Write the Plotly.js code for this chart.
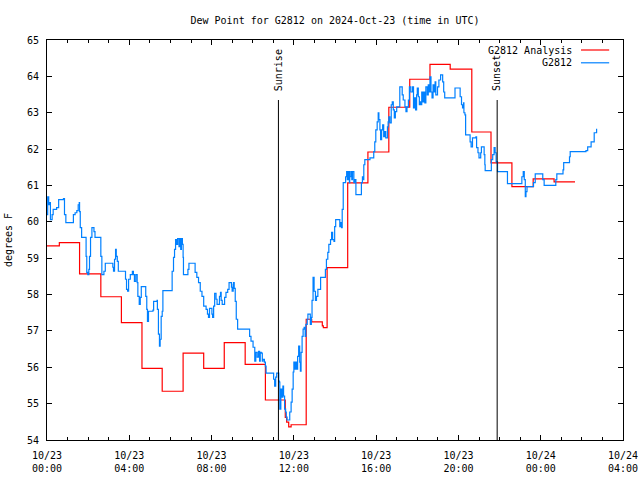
<!DOCTYPE html>
<html>
<head>
<meta charset="utf-8">
<script src="https://cdn.plot.ly/plotly-3.0.1.min.js"></script>
<style>html,body{margin:0;padding:0;background:#fff;}#chart{width:640px;height:480px;}</style>
</head>
<body>
<div id="chart"></div>
<script>
// Observed G2812 dew point: minutes after 2024-10-23 00:00 UTC, and degrees F
const obsMinutes = [0,2,5,7,10,15,18,26,28,34,48,51,55,72,77,82,87,91,94,95,97,101,111,114,116,119,122,124,127,131,137,140,153,157,160,166,170,189,192,194,197,200,202,205,208,226,229,232,235,238,243,249,252,255,259,263,265,269,272,275,286,288,291,293,296,309,311,321,322,325,328,330,333,336,338,361,365,369,372,375,378,381,385,387,390,392,395,397,398,408,411,414,430,432,437,442,447,452,457,464,468,471,474,478,481,483,486,489,493,496,501,503,506,508,511,515,518,522,527,531,535,538,540,543,544,546,549,552,556,588,591,595,601,606,609,613,617,620,622,625,628,630,634,637,639,658,661,664,667,670,674,676,678,679,682,685,688,690,693,696,698,700,705,708,712,715,718,720,723,725,728,731,734,737,739,741,744,747,750,753,755,759,761,766,768,771,773,776,779,783,786,790,796,798,809,812,815,819,822,827,830,833,837,839,842,851,854,856,859,861,864,868,871,874,876,879,882,883,886,889,891,895,898,901,915,917,920,922,924,927,939,942,949,953,956,959,963,966,968,971,973,976,979,982,985,988,993,995,997,1000,1004,1007,1010,1013,1016,1020,1026,1029,1034,1036,1039,1044,1047,1050,1054,1057,1061,1066,1069,1072,1075,1078,1080,1083,1086,1088,1090,1093,1096,1099,1102,1105,1109,1112,1115,1117,1120,1123,1126,1129,1132,1134,1139,1143,1148,1151,1154,1157,1160,1187,1190,1202,1205,1209,1212,1215,1216,1219,1221,1231,1234,1237,1241,1251,1253,1257,1260,1265,1267,1273,1275,1277,1278,1292,1296,1300,1304,1307,1310,1314,1339,1343,1382,1385,1389,1392,1395,1397,1400,1416,1419,1424,1443,1446,1450,1482,1484,1487,1502,1505,1507,1521,1524,1526,1572,1577,1587,1596,1603];
const obsDewF = [60.20,60.69,60.47,60.53,60.06,60.20,60.34,60.34,60.39,60.61,60.64,60.20,59.98,59.98,60.20,60.25,60.31,60.47,60.53,60.28,59.84,59.57,59.57,59.05,58.61,58.55,58.69,59.05,59.57,59.84,59.73,59.57,59.57,59.05,58.55,58.64,58.86,58.86,58.75,58.64,58.97,59.24,59.05,58.91,58.64,58.64,58.42,58.14,58.09,58.42,58.55,58.64,58.55,58.36,58.55,58.33,57.95,57.73,57.92,58.22,58.22,57.95,57.59,57.26,57.54,57.57,57.81,57.84,57.59,56.91,56.58,56.77,57.40,57.54,58.11,58.11,58.64,59.02,59.24,59.51,59.38,59.54,59.32,59.54,59.24,59.54,59.38,59.02,58.55,58.55,58.69,58.86,58.86,58.61,58.47,58.33,58.09,57.95,57.68,57.59,57.46,57.37,57.62,57.62,57.46,57.37,57.68,58.03,57.87,57.73,57.73,57.95,58.06,57.84,57.73,57.73,57.92,58.06,58.14,58.33,58.33,58.20,58.09,58.28,58.33,58.17,57.81,57.32,57.05,57.05,56.85,56.72,56.55,56.17,56.41,56.28,56.44,56.17,56.41,56.39,56.17,56.22,56.14,56.03,55.84,55.84,55.67,55.48,55.73,55.84,55.84,55.62,55.59,54.85,55.40,55.18,55.48,55.21,54.85,54.77,54.63,54.55,54.55,54.77,55.04,55.40,55.87,56.14,55.95,56.14,55.95,56.30,56.58,56.14,55.89,56.41,56.85,57.05,57.10,56.85,57.18,57.32,57.46,57.46,57.18,57.37,57.84,58.47,58.09,57.84,57.95,58.14,58.14,58.47,58.47,58.69,58.97,59.16,59.38,59.51,59.71,59.51,59.46,59.87,60.06,60.06,59.87,59.98,59.84,60.34,61.08,61.08,61.24,61.38,61.16,61.38,61.08,61.24,61.38,61.16,61.38,61.08,61.16,60.75,60.75,61.08,61.24,61.16,61.57,61.71,61.71,61.76,61.76,61.93,62.20,62.53,62.75,63.00,62.81,62.53,62.26,62.53,62.67,62.34,62.48,62.31,62.61,62.75,62.89,62.72,63.22,63.30,63.08,62.86,63.03,63.16,63.16,63.71,63.71,63.49,63.35,63.16,63.03,63.16,63.35,63.71,63.57,63.71,63.13,63.41,63.08,63.49,63.68,63.44,63.22,63.30,63.22,63.57,63.30,63.57,63.27,63.71,63.49,63.77,63.57,63.99,63.57,63.41,63.77,63.57,63.85,63.49,63.71,63.90,64.04,64.04,63.85,63.57,63.41,63.41,63.68,63.68,63.44,63.22,63.13,63.27,63.00,62.94,62.39,62.39,62.20,62.06,62.31,62.34,62.04,61.90,61.76,61.90,62.06,62.06,61.85,61.57,61.41,61.41,61.71,61.85,62.04,61.90,61.65,61.38,61.38,61.05,61.05,61.24,61.38,61.16,60.69,60.83,60.97,60.97,61.08,61.32,61.32,61.16,61.00,61.00,61.16,61.32,61.32,61.43,61.63,61.63,61.79,61.93,61.96,62.06,62.20,62.45,62.56];

// G2812 Analysis (hourly analysis, step function)
const anaMinutes = [0,36,95,157,217,277,336,397,457,517,578,637,695,699,705,712,756,772,803,806,817,877,936,997,1058,1117,1176,1239,1295,1356,1418,1479,1540];
const anaDewF = [59.34,59.43,58.57,57.94,57.23,55.97,55.34,56.39,55.97,56.68,56.08,55.10,54.62,54.49,54.36,54.42,57.32,57.25,57.14,57.09,58.74,61.07,61.92,63.15,63.92,64.33,64.20,62.47,61.62,60.97,61.18,61.10,61.10];

// Sun events (minutes after 00:00 UTC)
const sunEventNames = ["Sunrise", "Sunset"];
const sunEventMinutes = [675, 1313];

const seriesNames = ["G2812 Analysis", "G2812"];
const seriesColors = ["#ff0000", "#0080ff"];

const base = Date.UTC(2024, 9, 23, 0, 0, 0);
function toDate(m) {
  return new Date(base + m * 60000).toISOString().slice(0, 19).replace('T', ' ');
}

const mono = 'DejaVu Sans Mono, Liberation Mono, monospace';

const traces = [
  {
    x: anaMinutes.map(toDate), y: anaDewF, name: seriesNames[0],
    type: 'scatter', mode: 'lines', line: {color: seriesColors[0], width: 1.2, shape: 'hv'},
    showlegend: false
  },
  {
    x: obsMinutes.map(toDate), y: obsDewF, name: seriesNames[1],
    type: 'scatter', mode: 'lines', line: {color: seriesColors[1], width: 1.2, shape: 'hv'},
    showlegend: false
  }
];

const shapes = [];
const annotations = [];
sunEventMinutes.forEach((m, i) => {
  shapes.push({type: 'line', xref: 'x', yref: 'paper', x0: toDate(m), x1: toDate(m), y0: 0, y1: 0.85,
    line: {color: '#000', width: 1}});
  annotations.push({xref: 'x', yref: 'paper', x: toDate(m), y: 0.868, xanchor: 'center', yanchor: 'bottom',
    text: sunEventNames[i], textangle: -90, showarrow: false, font: {family: mono, size: 10, color: '#000'}});
});
// legend (gnuplot style: text then sample line)
const legendY = [0.975, 0.943];
seriesNames.forEach((n, i) => {
  annotations.push({xref: 'paper', yref: 'paper', x: 0.915, y: legendY[i], xanchor: 'right', yanchor: 'middle',
    text: n, showarrow: false, font: {family: mono, size: 10, color: '#000'}});
  shapes.push({type: 'line', xref: 'paper', yref: 'paper', x0: 0.927, x1: 0.976, y0: legendY[i], y1: legendY[i],
    line: {color: seriesColors[i], width: 1.2}});
});

const layout = {
  width: 640, height: 480,
  margin: {l: 47, r: 17, t: 40, b: 40},
  paper_bgcolor: '#fff', plot_bgcolor: '#fff',
  font: {family: mono, size: 10, color: '#000'},
  title: {text: 'Dew Point for G2812 on 2024-Oct-23 (time in UTC)', font: {family: mono, size: 10},
    xref: 'paper', x: 0.5, xanchor: 'center', yref: 'container', y: 0.958, yanchor: 'middle'},
  xaxis: {
    type: 'date', range: [toDate(0), toDate(28 * 60)],
    tick0: toDate(0), dtick: 4 * 3600000, tickformat: '%m/%d<br>%H:%M',
    ticks: 'inside', ticklen: 5, tickcolor: '#000', showline: true, linecolor: '#000', linewidth: 1,
    mirror: 'ticks', showgrid: false, zeroline: false, ticklabelstandoff: 6,
    minor: {dtick: 3600000, ticks: 'inside', ticklen: 3, tickcolor: '#000', showgrid: false},
    tickfont: {family: mono, size: 10}
  },
  yaxis: {
    range: [54, 65], dtick: 1, tick0: 54,
    ticks: 'inside', ticklen: 5, tickcolor: '#000', showline: true, linecolor: '#000', linewidth: 1,
    mirror: 'ticks', showgrid: false, zeroline: false, ticklabelstandoff: 5,
    tickfont: {family: mono, size: 10},
    title: {text: 'degrees F', font: {family: mono, size: 10}, standoff: 12}
  },
  shapes: shapes,
  annotations: annotations
};

Plotly.newPlot('chart', traces, layout, {displayModeBar: false, staticPlot: true});
</script>
</body>
</html>
